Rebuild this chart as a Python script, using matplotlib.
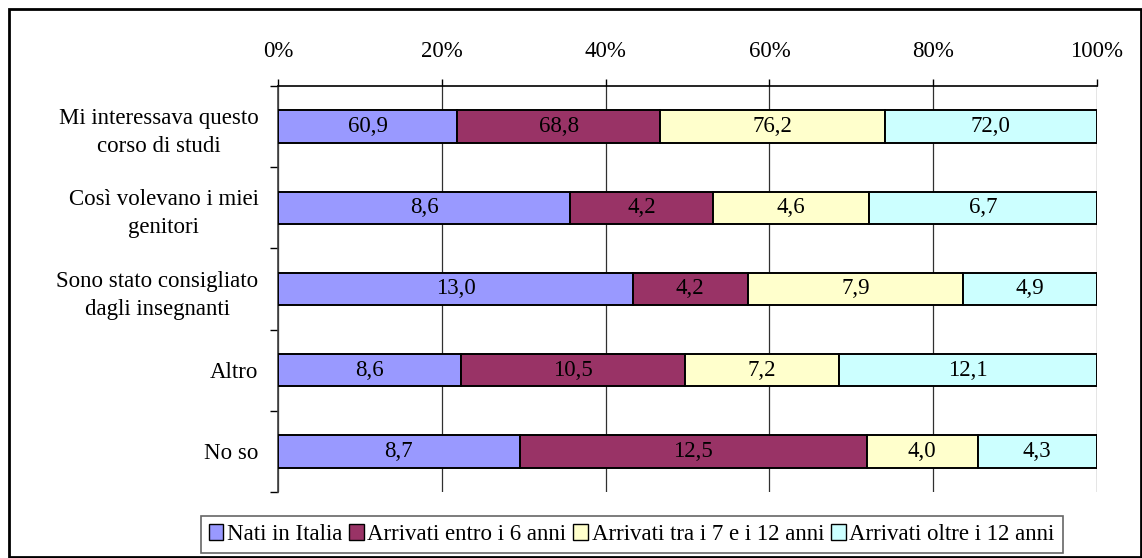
import matplotlib
matplotlib.use('Agg')
import matplotlib.pyplot as plt
from matplotlib.patches import Rectangle, Patch
import numpy as np

# categorie (dall'alto in basso) e serie
categorie = ['Mi interessava questo\ncorso di studi',
             'Così volevano i miei\ngenitori',
             'Sono stato consigliato\ndagli insegnanti',
             'Altro',
             'No so']
serie = ['Nati in Italia', 'Arrivati entro i 6 anni',
         'Arrivati tra i 7 e i 12 anni', 'Arrivati oltre i 12 anni']
nati_italia = [60.9, 8.6, 13.0, 8.6, 8.7]
entro_6 = [68.8, 4.2, 4.2, 10.5, 12.5]
tra_7_12 = [76.2, 4.6, 7.9, 7.2, 4.0]
oltre_12 = [72.0, 6.7, 4.9, 12.1, 4.3]
colori = ['#9999FF', '#993366', '#FFFFCC', '#CCFFFF']
xticks = [0, 20, 40, 60, 80, 100]

plt.rcParams['font.family'] = ['Liberation Serif', 'DejaVu Serif']
fts = 16.5

valori = np.array([nati_italia, entro_6, tra_7_12, oltre_12])
perc = valori / valori.sum(axis=0) * 100.0

fig = plt.figure(figsize=(11.42, 5.58), dpi=100)
ax = fig.add_axes([278/1142, 1-492/558, 819/1142, 406/558])

ypos = np.arange(len(categorie))
left = np.zeros(len(categorie))
for i in range(len(serie)):
    ax.barh(ypos, perc[i], left=left, height=0.4, color=colori[i],
            edgecolor='black', linewidth=1.4, label=serie[i], zorder=3)
    for j in range(len(categorie)):
        ax.text(left[j] + perc[i][j]/2, ypos[j], ('%.1f' % valori[i][j]).replace('.', ','),
                ha='center', va='center', fontsize=fts, zorder=4)
    left += perc[i]

ax.set_xlim(0, 100)
ax.set_ylim(len(categorie)-0.5, -0.5)
ax.xaxis.tick_top()
ax.set_xticks(xticks)
ax.set_xticklabels(['%d%%' % t for t in xticks], fontsize=fts)
ax.tick_params(axis='x', direction='out', length=5, width=1, pad=12)
ax.set_yticks(ypos)
ax.set_yticklabels(categorie, fontsize=fts, multialignment='center', linespacing=1.45)
ax.set_yticks(np.arange(len(categorie)+1)-0.5, minor=True)
ax.tick_params(axis='y', which='major', length=0, pad=14)
ax.tick_params(axis='y', which='minor', direction='out', length=6, width=1)
ax.grid(axis='x', color='#303030', linewidth=0.9, zorder=0)
ax.spines['bottom'].set_visible(False)
ax.spines['right'].set_visible(False)
ax.spines['top'].set_linewidth(1.2)
ax.spines['left'].set_linewidth(1.2)
ax.spines['left'].set_color('#404040')

handles = [Patch(facecolor=c, edgecolor='black', linewidth=1.0) for c in colori]
leg = fig.legend(handles, serie, loc='center', bbox_to_anchor=(0.553, 0.042), ncol=4,
                 fontsize=fts, frameon=True, fancybox=False, edgecolor='#404040',
                 handlelength=0.65, handleheight=0.65, handletextpad=0.15,
                 columnspacing=0.3, borderpad=0.35, borderaxespad=0)
leg.get_frame().set_linewidth(1.2)

fig.patches.append(Rectangle((9/1142, 1/558), 1132/1142, 548/558, transform=fig.transFigure,
                             fill=False, edgecolor='black', linewidth=2))

fig.savefig('out.png', dpi=100)
